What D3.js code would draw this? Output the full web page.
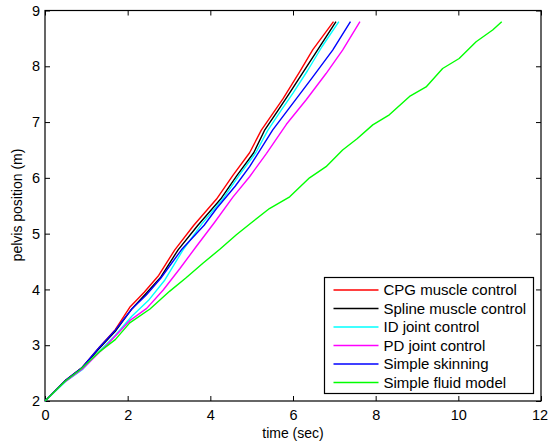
<!DOCTYPE html>
<html>
<head>
<meta charset="utf-8">
<script src="https://cdn.jsdelivr.net/npm/d3@7"></script>
<style>
  body { margin: 0; background: #fff; }
  text { font-family: "Liberation Sans", Arial, sans-serif; }
</style>
</head>
<body>
<svg width="548" height="443"></svg>
<script>
// series names, colours (legend order = draw order)
const names = ["CPG muscle control", "Spline muscle control", "ID joint control",
               "PD joint control", "Simple skinning", "Simple fluid model"];
const colors = ["#ff0000", "#000000", "#00ffff", "#ff00ff", "#0000ff", "#00ff00"];

// [time (sec), pelvis position (m)]
const cpg = [[0,2],[0.5,2.37],[0.9,2.6],[1.3,2.95],[1.7,3.28],[2.05,3.68],[2.4,3.95],[2.75,4.25],
  [3.14,4.71],[3.6,5.15],[4.15,5.62],[4.55,6.05],[4.95,6.45],[5.23,6.85],[5.51,7.15],[5.76,7.42],
  [6.16,7.9],[6.48,8.3],[6.98,8.8]];
const spline = [[0,2],[0.5,2.37],[0.9,2.6],[1.3,2.93],[1.7,3.25],[2.1,3.65],[2.45,3.93],[2.8,4.22],
  [3.22,4.71],[3.7,5.15],[4.25,5.62],[4.65,6.05],[5.05,6.45],[5.31,6.85],[5.63,7.2],[5.9,7.5],
  [6.25,7.9],[6.6,8.3],[7.04,8.8]];
const idJoint = [[0,2],[0.5,2.35],[0.9,2.56],[1.3,2.88],[1.7,3.18],[2.1,3.52],[2.5,3.8],[2.9,4.17],
  [3.34,4.71],[3.8,5.18],[4.3,5.62],[4.7,6.05],[5.1,6.45],[5.39,6.85],[5.72,7.22],[6.0,7.52],
  [6.35,7.92],[6.7,8.35],[7.11,8.8]];
const pdJoint = [[0,2],[0.44,2.32],[0.93,2.59],[1.49,3.0],[2.05,3.44],[2.46,3.66],[2.86,3.99],
  [3.26,4.37],[3.66,4.77],[4.1,5.2],[4.55,5.66],[4.95,6.02],[5.36,6.44],[5.84,6.96],[6.32,7.4],
  [6.8,7.87],[7.2,8.29],[7.62,8.8]];
const skinning = [[0,2],[0.5,2.37],[0.9,2.6],[1.3,2.95],[1.7,3.27],[2.1,3.65],[2.45,3.9],[2.8,4.2],
  [3.3,4.71],[3.85,5.15],[4.15,5.45],[4.6,5.85],[4.95,6.2],[5.51,6.86],[6.0,7.34],[6.48,7.81],
  [6.96,8.29],[7.39,8.8]];
const fluid = [[0,2],[0.48,2.35],[0.85,2.56],[1.33,2.89],[1.7,3.1],[2.05,3.4],[2.54,3.65],[3.02,3.97],
  [3.4,4.2],[3.82,4.47],[4.23,4.72],[4.63,4.98],[5.0,5.2],[5.43,5.45],[5.92,5.66],[6.4,6.0],
  [6.8,6.2],[7.2,6.5],[7.55,6.7],[7.93,6.95],[8.33,7.13],[8.82,7.46],[9.22,7.63],[9.62,7.96],
  [10.02,8.14],[10.43,8.44],[10.83,8.65],[11.05,8.8]];
const series = [cpg, spline, idJoint, pdJoint, skinning, fluid];

const xTicks = [0, 2, 4, 6, 8, 10, 12];
const yTicks = [2, 3, 4, 5, 6, 7, 8, 9];

const svg = d3.select("svg");
const margin = {left: 45, top: 10.5};
const width = 496, height = 390.5;
const g = svg.append("g").attr("transform", "translate(" + margin.left + "," + margin.top + ")");

const x = d3.scaleLinear().domain([0, 12]).range([0, width]);
const y = d3.scaleLinear().domain([2, 9]).range([height, 0]);

// axes: inward ticks on all four sides
const tickFont = "14.5px";
g.append("g").attr("transform", "translate(0," + height + ")")
  .call(d3.axisBottom(x).tickValues(xTicks).tickFormat(d3.format("d"))
    .tickSizeInner(-5).tickSizeOuter(0).tickPadding(9))
  .call(a => a.select(".domain").remove())
  .call(a => a.selectAll("text").style("font-size", tickFont).attr("fill", "#000"))
  .call(a => a.selectAll("text").filter(d => d === 12).attr("dx", "-1.5"));
g.append("g")
  .call(d3.axisLeft(y).tickValues(yTicks).tickFormat(d3.format("d"))
    .tickSizeInner(-5).tickSizeOuter(0).tickPadding(5))
  .call(a => a.select(".domain").remove())
  .call(a => a.selectAll("text").style("font-size", tickFont).attr("fill", "#000"));
g.append("g")
  .call(d3.axisTop(x).tickValues(xTicks).tickSizeInner(-5).tickSizeOuter(0).tickFormat(""))
  .call(a => a.select(".domain").remove());
g.append("g").attr("transform", "translate(" + width + ",0)")
  .call(d3.axisRight(y).tickValues(yTicks).tickSizeInner(-5).tickSizeOuter(0).tickFormat(""))
  .call(a => a.select(".domain").remove());

g.append("rect").attr("x", 0).attr("y", 0).attr("width", width).attr("height", height)
  .attr("fill", "none").attr("stroke", "#000").attr("stroke-width", 1.2);

// lines
const line = d3.line().x(d => x(d[0])).y(d => y(d[1]));
g.selectAll(".series").data(series).enter().append("path")
  .attr("class", "series")
  .attr("d", line)
  .attr("fill", "none")
  .attr("stroke", (d, i) => colors[i])
  .attr("stroke-width", 1.4)
  .attr("stroke-linejoin", "round");

// axis labels
svg.append("text").attr("x", 293).attr("y", 438).attr("text-anchor", "middle")
  .style("font-size", "14px").text("time (sec)");
svg.append("text").attr("transform", "translate(22,205) rotate(-90)").attr("text-anchor", "middle")
  .style("font-size", "14px").text("pelvis position (m)");

// legend
const legend = svg.append("g").attr("transform", "translate(324.5,277.5)");
legend.append("rect").attr("width", 209).attr("height", 116)
  .attr("fill", "#fff").attr("stroke", "#000").attr("stroke-width", 1.2);
const rows = legend.selectAll(".row").data(names).enter().append("g")
  .attr("transform", (d, i) => "translate(0," + (12.5 + i * 18.5) + ")");
rows.append("line").attr("x1", 9).attr("x2", 54).attr("y1", 0).attr("y2", 0)
  .attr("stroke", (d, i) => colors[i]).attr("stroke-width", 1.4);
rows.append("text").attr("x", 59).attr("dy", "0.36em").style("font-size", "15px").text(d => d);
</script>
</body>
</html>
